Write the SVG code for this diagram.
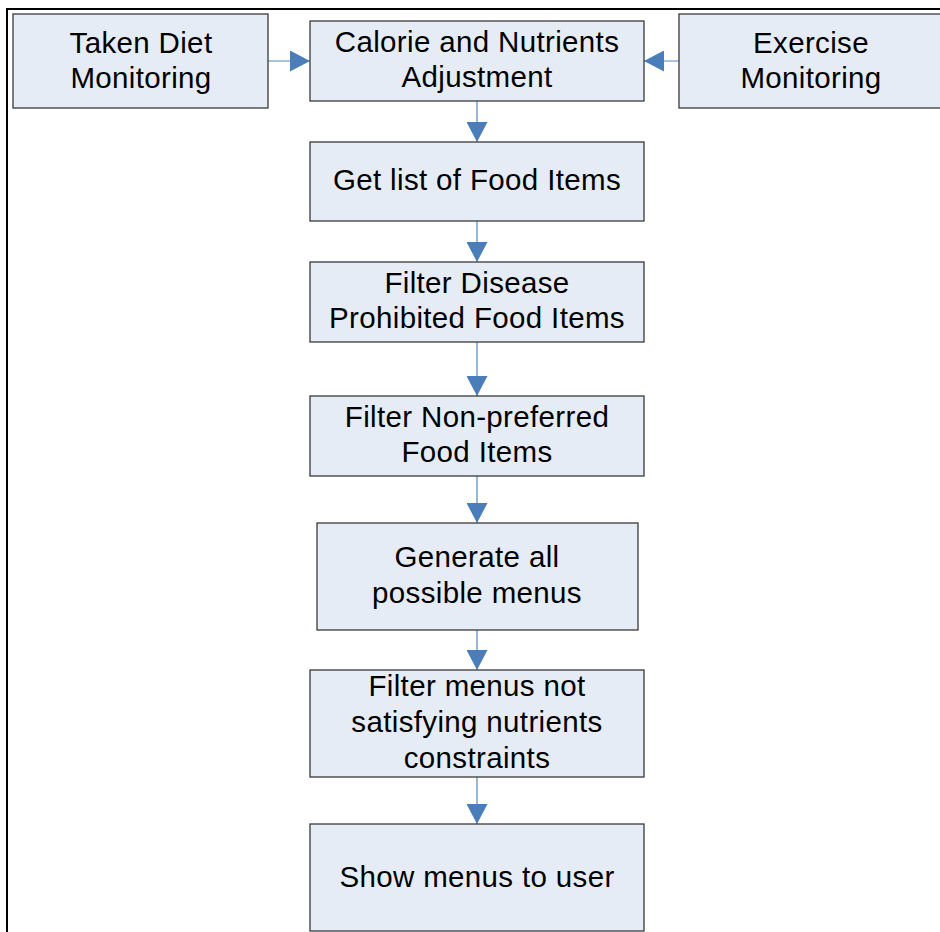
<svg xmlns="http://www.w3.org/2000/svg" width="940" height="932" viewBox="0 0 940 932">
  <defs>
    <style>
      .box { fill: #e6ecf6; stroke: #3a3a3a; stroke-width: 1.3; }
      .lbl { font-family: "Liberation Sans", Arial, sans-serif; font-size: 29.5px; letter-spacing: 0.35px; fill: #000; text-anchor: middle; }
      .conn { stroke: #5b86c4; stroke-width: 1.2; fill: none; marker-end: url(#head); }
      .frame { stroke: #000; stroke-width: 2; fill: none; }
    </style>
    <marker id="head" markerUnits="userSpaceOnUse" markerWidth="21" markerHeight="21" viewBox="0 0 20 21" refX="20" refY="10.5" orient="auto">
      <path d="M0,0 L20,10.5 L0,21 Z" fill="#4a7ebb"/>
    </marker>
  </defs>

  <rect width="940" height="932" fill="#fff"/>
  <!-- page frame (top and left edges) -->
  <path class="frame" d="M7,932 V9 H940"/>

  <g id="connectors">
    <path class="conn" d="M268,61 H310"/>
    <path class="conn" d="M679,61 H644"/>
    <path class="conn" d="M477,101 V142"/>
    <path class="conn" d="M477,221 V262"/>
    <path class="conn" d="M477,342 V396"/>
    <path class="conn" d="M477,476 V523"/>
    <path class="conn" d="M477,630 V670"/>
    <path class="conn" d="M477,777 V824"/>
  </g>

  <g id="taken-diet">
    <rect class="box" x="13" y="14" width="255" height="94"/>
    <text class="lbl" x="141" y="53">Taken Diet</text>
    <text class="lbl" x="141" y="88">Monitoring</text>
  </g>

  <g id="calorie-adjustment">
    <rect class="box" x="310" y="21" width="334" height="80"/>
    <text class="lbl" x="477" y="52">Calorie and Nutrients</text>
    <text class="lbl" x="477" y="87">Adjustment</text>
  </g>

  <g id="exercise">
    <rect class="box" x="679" y="14" width="266" height="94"/>
    <text class="lbl" x="811" y="53">Exercise</text>
    <text class="lbl" x="811" y="88">Monitoring</text>
  </g>

  <g id="food-list">
    <rect class="box" x="310" y="142" width="334" height="79"/>
    <text class="lbl" x="477" y="190">Get list of Food Items</text>
  </g>

  <g id="filter-disease">
    <rect class="box" x="310" y="262" width="334" height="80"/>
    <text class="lbl" x="477" y="293">Filter Disease</text>
    <text class="lbl" x="477" y="328">Prohibited Food Items</text>
  </g>

  <g id="filter-preference">
    <rect class="box" x="310" y="396" width="334" height="80"/>
    <text class="lbl" x="477" y="427">Filter Non-preferred</text>
    <text class="lbl" x="477" y="462">Food Items</text>
  </g>

  <g id="generate-menus">
    <rect class="box" x="317" y="523" width="321" height="107"/>
    <text class="lbl" x="477" y="567">Generate all</text>
    <text class="lbl" x="477" y="603">possible menus</text>
  </g>

  <g id="filter-nutrients">
    <rect class="box" x="310" y="670" width="334" height="107"/>
    <text class="lbl" x="477" y="696">Filter menus not</text>
    <text class="lbl" x="477" y="732">satisfying nutrients</text>
    <text class="lbl" x="477" y="768">constraints</text>
  </g>

  <g id="show-menus">
    <rect class="box" x="310" y="824" width="334" height="107"/>
    <text class="lbl" x="477" y="887">Show menus to user</text>
  </g>
</svg>
